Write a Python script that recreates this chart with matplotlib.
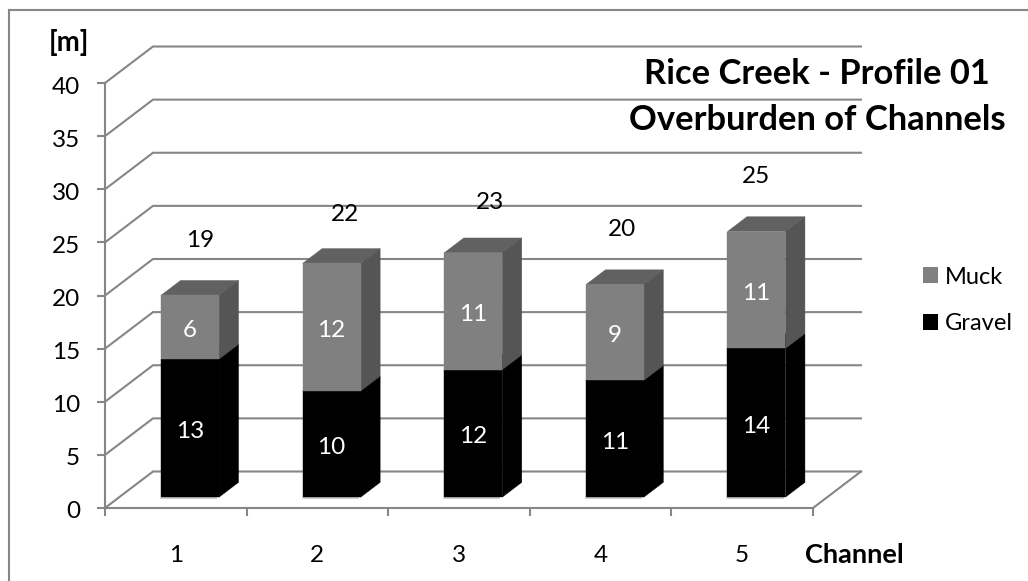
import matplotlib
matplotlib.use("Agg")
import matplotlib.pyplot as plt
from matplotlib.lines import Line2D
from matplotlib.patches import Patch, Polygon
from matplotlib.transforms import ScaledTranslation

# ---- data ----
channels = ["1", "2", "3", "4", "5"]
gravel = [13, 10, 12, 11, 14]
muck = [6, 12, 11, 9, 11]
totals = [19, 22, 23, 20, 25]
y_ticks = [0, 5, 10, 15, 20, 25, 30, 35, 40]

# ---- styling ----
W, H = 1028, 581
FONT = "Lato"
GRID = "#868686"
MUCK_FRONT, MUCK_SIDE, MUCK_TOP = "#808080", "#555555", "#616161"
GRAVEL = "#000000"
TOTAL_DX = [10, 13, 17, 7, 0]
TOTAL_DY = [55, 49, 50, 55, 55]
FS = 17.5

fig = plt.figure(figsize=(W / 100, H / 100), dpi=100, facecolor="white")
ax = fig.add_axes([105 / W, (H - 508) / H, 708 / W, 425 / H])
ax.set_xlim(0, 5)
ax.set_ylim(0, 40)
ax.patch.set_visible(False)

# oblique depth of the wall, in data units
DX, DY = 48 / (708 / 5), 36.5 / (425 / 40)


def proj(x, y, d):
    return x + d * DX, y + d * DY


# walls and floor
for v in y_ticks:
    pts = [proj(0, v, 0), proj(0, v, 1), proj(5, v, 1)]
    ax.plot(*zip(*pts), color=GRID, lw=1.5, clip_on=False, zorder=1, solid_joinstyle="miter")
ax.plot(*zip(proj(5, 0, 0), proj(5, 0, 1)), color=GRID, lw=1.5, clip_on=False, zorder=1)

# axes
for s in ("top", "right"):
    ax.spines[s].set_visible(False)
for s in ("left", "bottom"):
    ax.spines[s].set_color(GRID)
    ax.spines[s].set_linewidth(1.5)
ax.set_yticks(y_ticks)
ax.set_xticks(range(6))
ax.set_xticklabels([])
ax.set_xticks([i + 0.5 for i in range(5)], labels=channels, minor=True)
ax.tick_params(axis="both", which="major", length=5.8, width=1.5, color=GRID)
ax.tick_params(axis="y", pad=12, labelsize=FS, labelfontfamily=FONT, labelcolor="black")
ax.tick_params(axis="x", which="minor", length=0, pad=27, labelsize=FS, labelfontfamily=FONT)
for lab in ax.get_yticklabels():
    lab.set_transform(lab.get_transform() + ScaledTranslation(0, -2 / 100, fig.dpi_scale_trans))

# bars
D0, D1 = 0.297, 0.703
BW = 58 / (708 / 5)


def box(x0, x1, y0, y1, front, side, top, z):
    faces = [
        ([proj(x0, y1, D0), proj(x1, y1, D0), proj(x1, y1, D1), proj(x0, y1, D1)], top),
        ([proj(x1, y0, D0), proj(x1, y1, D0), proj(x1, y1, D1), proj(x1, y0, D1)], side),
        ([proj(x0, y0, D0), proj(x1, y0, D0), proj(x1, y1, D0), proj(x0, y1, D0)], front),
    ]
    for pts, c in faces:
        ax.add_patch(Polygon(pts, closed=True, fc=c, ec=c, lw=0.3, clip_on=False, zorder=z))


for i in range(5):
    x0 = i + 0.5 - BW / 2
    x1 = x0 + BW
    g, m, t = gravel[i], muck[i], totals[i]
    ax.plot(*zip(proj(x0, -0.1, D0), proj(x1 - 0.02, -0.1, D0)), color="#c4c4c4", lw=1.2,
            clip_on=False, zorder=2)
    box(x0, x1, 0, g, GRAVEL, GRAVEL, GRAVEL, 3 + i)
    box(x0, x1, g, g + m, MUCK_FRONT, MUCK_SIDE, MUCK_TOP, 3 + i)
    cx, cy = proj((x0 + x1) / 2, g / 2, D0)
    ax.annotate(str(g), (cx, cy), xytext=(0, -3.5), textcoords="offset pixels", color="white",
                fontsize=FS, family=FONT, ha="center", va="center", zorder=20, annotation_clip=False)
    cx, cy = proj((x0 + x1) / 2, g + m / 2, D0)
    ax.annotate(str(m), (cx, cy), xytext=(0, -3.5), textcoords="offset pixels", color="white",
                fontsize=FS, family=FONT, ha="center", va="center", zorder=20, annotation_clip=False)
    cx, cy = proj((x0 + x1) / 2, t, D0)
    ax.annotate(str(t), (cx, cy), xytext=(TOTAL_DX[i], TOTAL_DY[i]), textcoords="offset pixels",
                color="black", fontsize=FS, family=FONT, ha="center", va="center", zorder=20,
                annotation_clip=False)

# texts
title_kw = dict(family=FONT, fontweight="bold", fontsize=24.8, ha="center", va="center", color="black", zorder=30)
fig.text(817 / W, 1 - 74 / H, "Rice Creek - Profile 01", **title_kw)
fig.text(817 / W, 1 - 120 / H, "Overburden of Channels", **title_kw)
fig.text(69 / W, 1 - 42 / H, "[m]", family=FONT, fontweight="bold", fontsize=20, ha="center", va="center")
fig.text(854 / W, 1 - 555 / H, "Channel", family=FONT, fontweight="bold", fontsize=19.5, ha="center", va="center")

# legend
handles = [Patch(fc=MUCK_FRONT, ec="none", label="Muck"), Patch(fc=GRAVEL, ec="none", label="Gravel")]
fig.legend(handles=handles, loc="center left", bbox_to_anchor=(923 / W, 1 - 300.5 / H), frameon=False,
           prop={"family": FONT, "size": 17}, handlelength=0.64, handleheight=0.64, handletextpad=0.3,
           labelspacing=1.1, borderpad=0, borderaxespad=0)

# chart border (open to the right and bottom of the picture)
fig.add_artist(Line2D([8.5 / W, 8.5 / W], [0, 1 - 10 / H], color=GRID, lw=1.5))
fig.add_artist(Line2D([8.5 / W, 1], [1 - 10 / H, 1 - 10 / H], color=GRID, lw=1.5))

fig.savefig("out.png", dpi=100, facecolor="white")
